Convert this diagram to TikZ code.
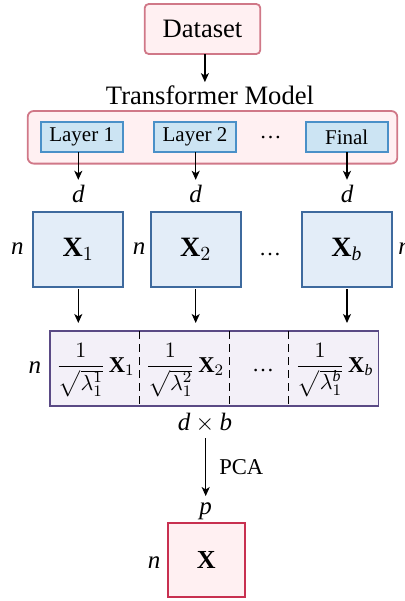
\documentclass[tikz,border=0pt]{standalone}
\usepackage{amsmath}
\usepackage{fontspec}
\setmainfont{Liberation Serif}
\usetikzlibrary{arrows.meta,calc}
\definecolor{pinkfill}{HTML}{FFF0F2}
\definecolor{pinkdraw}{HTML}{D07888}
\definecolor{layerfill}{HTML}{CCE4F3}
\definecolor{layerdraw}{HTML}{4A90C8}
\definecolor{xfill}{HTML}{E3EDF8}
\definecolor{xdraw}{HTML}{3E6A9E}
\definecolor{catfill}{HTML}{F3F0F8}
\definecolor{catdraw}{HTML}{5A4A85}
\definecolor{reddraw}{HTML}{C83050}
\newcommand{\vit}[1]{\mathit{#1}}
\begin{document}
\begin{tikzpicture}[x=0.5pt,y=-0.5pt,
  conn/.style={line width=0.65pt,-{Stealth[length=4.5pt,width=4pt,inset=1.2pt]}},
  box/.style={draw,line width=0.9pt,inner sep=0pt,outer sep=0pt},
  layerbox/.style={box,fill=layerfill,draw=layerdraw,minimum width=41pt,minimum height=15.3pt,font=\fontsize{10.5}{12}\selectfont},
  xbox/.style={box,fill=xfill,draw=xdraw,minimum width=45pt,minimum height=37.2pt,font=\fontsize{14}{16}\selectfont},
  mlbl/.style={inner sep=2.5pt,font=\fontsize{12.5}{14}\selectfont},
  fraclbl/.style={inner sep=0pt,font=\fontsize{11.3}{13}\selectfont},
  dotslbl/.style={inner sep=0pt,font=\fontsize{11}{13}\selectfont},
  divider/.style={line width=0.6pt,dash pattern=on 4pt off 2.5pt}]
\useasboundingbox (0,0) rectangle (405,601);

% Dataset and transformer
\node[box,rounded corners=2pt,fill=pinkfill,draw=pinkdraw,minimum width=57.8pt,minimum height=25pt,font=\fontsize{13.3}{15}\selectfont] (ds) at (202.5,29) {Dataset};
\node[inner sep=1.5pt,font=\fontsize{13.3}{15}\selectfont] (tmlabel) at (210,95) {Transformer Model};
\draw[conn] ([xshift=1.2pt]ds.south) -- ([xshift=1.2pt]ds.south |- tmlabel.north);
\node[box,rounded corners=3pt,fill=pinkfill,draw=pinkdraw,minimum width=184.8pt,minimum height=26.3pt] (tm) at (212.5,137.3) {};
\node[layerbox] (l1) at (81.7,137) {Layer 1};
\node[layerbox] (l2) at (195,137) {Layer 2};
\node[layerbox] (lf) at (346.7,137) {Final};
\node[dotslbl] (tdots) at (270.5,138) {…};

% d labels
\node[mlbl] (d1) at (78.3,194) {$\vit{d}$};
\node[mlbl] (d2) at (195.7,194) {$\vit{d}$};
\node[mlbl] (d3) at (347,194) {$\vit{d}$};
\draw[conn] (l1.south -| d1) -- (d1.north);
\draw[conn] (l2.south -| d2) -- (d2.north);
\draw[conn] (lf.south -| d3) -- (d3.north);

% X boxes
\node[xbox] (x1) at (78.3,249.5) {$\mathbf{X}_1$};
\node[xbox] (x2) at (195.7,249.5) {$\mathbf{X}_2$};
\node[xbox] (xb) at (347,249.5) {$\mathbf{X}_{\vit{b}}$};
\node[mlbl] (n1) at (17.5,249) {$\vit{n}$};
\node[mlbl] (n2) at (139,249) {$\vit{n}$};
\node[mlbl] (n3) at (404.5,249) {$\vit{n}$};
\node[dotslbl] (xdots) at (270,255) {…};

% concatenated matrix
\node[box,fill=catfill,draw=catdraw,minimum width=164.2pt,minimum height=37.3pt] (cat) at (214.2,368.3) {};
\draw[conn,shorten <=1.2pt,shorten >=4pt] (x1.south) -- (x1.south |- cat.north);
\draw[conn,shorten <=1.2pt,shorten >=4pt] (x2.south) -- (x2.south |- cat.north);
\draw[conn,shorten <=1.2pt,shorten >=4pt] (xb.south) -- (xb.south |- cat.north);
\draw[divider] ($(cat.north west)+(89.3,0)$) -- ($(cat.south west)+(89.3,0)$);
\draw[divider] ($(cat.north west)+(179.3,0)$) -- ($(cat.south west)+(179.3,0)$);
\draw[divider] ($(cat.north west)+(238.7,0)$) -- ($(cat.south west)+(238.7,0)$);
\node[fraclbl] (f1) at (95.5,370) {$\displaystyle\frac{1}{\sqrt{\lambda_1^1}}\,\mathbf{X}_1$};
\node[fraclbl] (f2) at (185,370) {$\displaystyle\frac{1}{\sqrt{\lambda_1^2}}\,\mathbf{X}_2$};
\node[dotslbl] (fdots) at (263,371) {…};
\node[fraclbl] (fb) at (334.5,370) {$\displaystyle\frac{1}{\sqrt{\lambda_1^{\smash{\vit{b}}}}}\,\mathbf{X}_{\vit{b}}$};
\node[mlbl] (ncat) at (35,368) {$\vit{n}$};

% PCA
\node[mlbl] (dxb) at (205,423) {$\vit{d}\times\vit{b}$};
\node[inner sep=3pt,font=\fontsize{12.5}{14}\selectfont] (p) at (205.7,511) {$\vit{p}$};
\draw[conn] (dxb.south -| p) -- (p.north) node[midway,right=6.5pt,inner sep=0pt,font=\fontsize{11.3}{13}\selectfont] (pca) {PCA};

% final X
\node[box,fill=pinkfill,draw=reddraw,minimum width=38.7pt,minimum height=37pt,font=\fontsize{13}{15}\selectfont] (xf) at (206.3,560.3) {$\mathbf{X}$};
\node[mlbl] (nf) at (154,563) {$\vit{n}$};
\end{tikzpicture}
\end{document}
